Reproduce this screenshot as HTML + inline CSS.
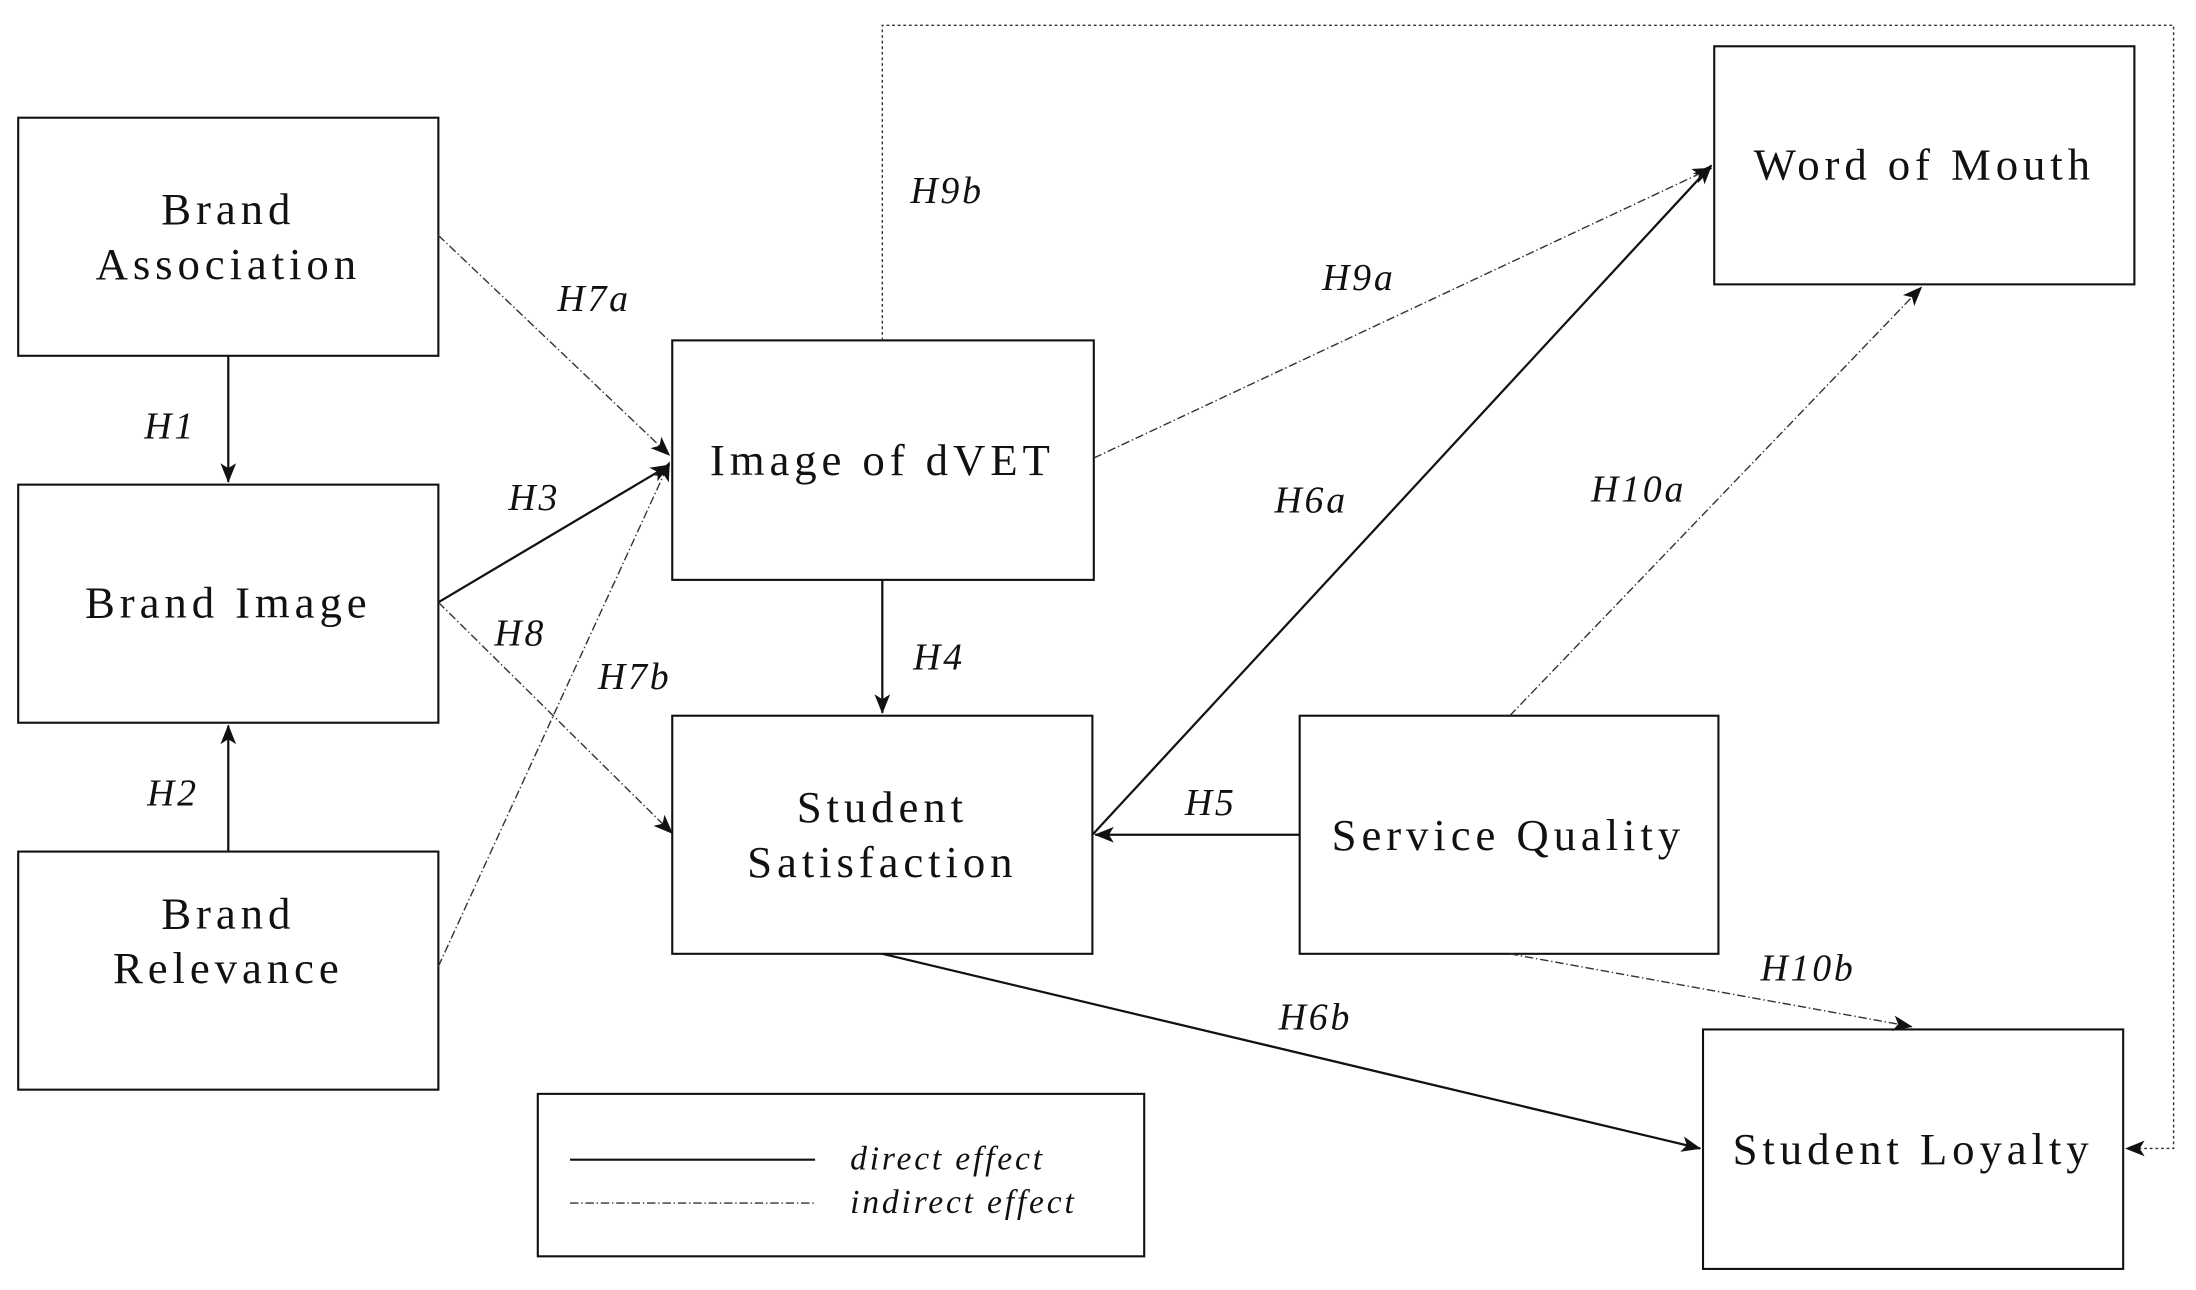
<!DOCTYPE html>
<html><head><meta charset="utf-8"><style>
html,body{margin:0;padding:0;background:#fff;}
svg{display:block;}
text{font-family:"Liberation Serif",serif;fill:#111;}
.b{font-size:32px;text-anchor:middle;letter-spacing:3.5px;}
.l{font-size:27px;font-style:italic;letter-spacing:2px;}
</style></head><body>
<svg width="2196" height="1290" viewBox="0 0 1568 921" xmlns="http://www.w3.org/2000/svg">
<defs>
<marker id="a" viewBox="0 0 20 20" refX="19" refY="10" markerWidth="14" markerHeight="14" markerUnits="userSpaceOnUse" orient="auto">
<path d="M0,2 L20,10 L0,18 L5,10 Z" fill="#111"/>
</marker>
</defs>
<g fill="none" stroke="#111" stroke-width="1.5">
<rect x="13" y="84" width="300" height="170"/>
<rect x="13" y="346" width="300" height="170"/>
<rect x="13" y="608" width="300" height="170"/>
<rect x="480" y="243" width="301" height="171"/>
<rect x="480" y="511" width="300" height="170"/>
<rect x="928" y="511" width="299" height="170"/>
<rect x="1224" y="33" width="300" height="170"/>
<rect x="1216" y="735" width="300" height="171"/>
<rect x="384" y="781" width="433" height="116"/>
</g>
<g stroke="#111" stroke-width="1.6" fill="none">
<line x1="163" y1="254" x2="163" y2="344" marker-end="url(#a)"/>
<line x1="163" y1="608" x2="163" y2="518" marker-end="url(#a)"/>
<line x1="313" y1="430" x2="478" y2="332" marker-end="url(#a)"/>
<line x1="630" y1="414" x2="630" y2="509" marker-end="url(#a)"/>
<line x1="780" y1="596" x2="1222" y2="118" marker-end="url(#a)"/>
<line x1="928" y1="596" x2="782" y2="596" marker-end="url(#a)"/>
<line x1="630" y1="681" x2="1214" y2="820" marker-end="url(#a)"/>
<line x1="407" y1="828" x2="582" y2="828"/>
</g>
<g stroke="#333" stroke-width="1" fill="none" stroke-dasharray="6,2,1,2">
<line x1="313" y1="168" x2="478" y2="325" marker-end="url(#a)"/>
<line x1="313" y1="690" x2="478" y2="330" marker-end="url(#a)"/>
<line x1="313" y1="430" x2="480" y2="595" marker-end="url(#a)"/>
<line x1="781" y1="327" x2="1222" y2="120" marker-end="url(#a)"/>
<line x1="1078" y1="511" x2="1372" y2="205" marker-end="url(#a)"/>
<line x1="1078" y1="681" x2="1365" y2="733" marker-end="url(#a)"/>
<line x1="407" y1="859" x2="582" y2="859"/>
</g>
<polyline points="630,243 630,18 1552,18 1552,820 1518,820" stroke="#333" stroke-width="1" fill="none" stroke-dasharray="2,2" marker-end="url(#a)"/>
<text class="b" x="163" y="160">Brand</text>
<text class="b" x="163" y="199">Association</text>
<text class="b" x="163" y="441">Brand Image</text>
<text class="b" x="163" y="663">Brand</text>
<text class="b" x="163" y="702">Relevance</text>
<text class="b" x="630" y="339">Image of dVET</text>
<text class="b" x="630" y="587">Student</text>
<text class="b" x="630" y="626">Satisfaction</text>
<text class="b" x="1077" y="607">Service Quality</text>
<text class="b" x="1374" y="128">Word of Mouth</text>
<text class="b" x="1366" y="831">Student Loyalty</text>
<text class="l" x="650" y="145">H9b</text>
<text class="l" x="398" y="222">H7a</text>
<text class="l" x="944" y="207">H9a</text>
<text class="l" x="103" y="313">H1</text>
<text class="l" x="363" y="364">H3</text>
<text class="l" x="910" y="366">H6a</text>
<text class="l" x="1136" y="358">H10a</text>
<text class="l" x="353" y="461">H8</text>
<text class="l" x="652" y="478">H4</text>
<text class="l" x="427" y="492">H7b</text>
<text class="l" x="105" y="575">H2</text>
<text class="l" x="846" y="582">H5</text>
<text class="l" x="1257" y="700">H10b</text>
<text class="l" x="913" y="735">H6b</text>
<text class="l" x="607" y="835" style="font-size:24px">direct effect</text>
<text class="l" x="607" y="866" style="font-size:24px">indirect effect</text>
</svg>
</body></html>
